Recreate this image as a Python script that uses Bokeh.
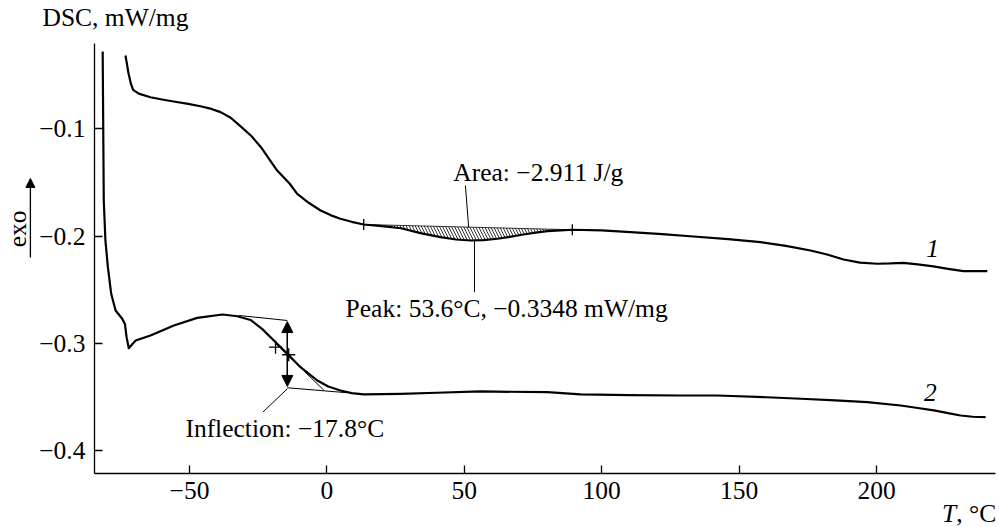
import numpy as np
from bokeh.plotting import figure
from bokeh.models import (Range1d, Label, Arrow, NormalHead, CustomJSTickFormatter,
                          FixedTicker)
from bokeh.embed import file_html
from bokeh.resources import INLINE

# ---- data ----
t1 = [-73.3, -72.2, -71.3, -70.5, -68.5, -64.2, -60.0, -55.8, -51.0, -46.0, -42.0, -38.7,
      -35.0, -31.4, -27.5, -24.0, -21.0, -18.1, -13.6, -10.8, -6.5, -2.3, 1.5, 4.9, 9.0,
      13.4, 20.0, 27.0, 34.0, 41.3, 47.0, 52.3, 57.0, 62.0, 67.0, 71.5, 76.0, 80.2, 85.0,
      89.3, 100.0, 110.5, 122.0, 133.4, 146.0, 157.8, 167.0, 176.0, 182.0, 188.0, 194.0,
      200.3, 205.0, 209.8, 215.0, 220.7, 226.0, 231.6, 240.3]
y1 = [-0.0315, -0.048, -0.058, -0.0635, -0.0670, -0.0704, -0.0725, -0.0744, -0.0764,
      -0.0788, -0.0813, -0.0843, -0.0895, -0.0975, -0.1065, -0.1170, -0.1280, -0.1387,
      -0.1508, -0.1604, -0.1690, -0.1760, -0.1805, -0.1837, -0.1865, -0.1890, -0.1905,
      -0.1925, -0.1970, -0.2008, -0.2030, -0.2039, -0.2036, -0.2023, -0.2003, -0.1983,
      -0.1965, -0.1952, -0.1944, -0.1939, -0.1945, -0.1962, -0.1980, -0.2002, -0.2027,
      -0.2055, -0.2090, -0.2132, -0.2170, -0.2216, -0.2245, -0.2256, -0.2253, -0.2247,
      -0.2262, -0.2281, -0.2303, -0.2325, -0.2325]

t2 = [-81.6, -81.2, -80.6, -79.7, -78.5, -76.9, -74.5, -73.5, -72.9, -72.1, -71.0, -69.6,
      -64.2, -55.7, -47.2, -38.0, -32.6, -27.8, -23.5, -19.3, -14.4, -9.6, -3.5, 0.5, 4.9,
      9.0, 13.4, 26.8, 40.0, 55.9, 80.2, 92.3, 110.0, 128.7, 142.0, 160.0, 172.5, 185.0,
      196.6, 208.8, 215.0, 220.9, 226.0, 230.6, 235.0, 239.7]
y2 = [-0.0278, -0.1666, -0.2039, -0.2288, -0.2536, -0.2692, -0.2769, -0.2816, -0.2940,
      -0.3043, -0.3010, -0.2971, -0.2925, -0.2831, -0.2760, -0.2729, -0.2745, -0.2780,
      -0.2865, -0.2971, -0.3095, -0.3220, -0.3344, -0.3400, -0.3437, -0.3462, -0.3474,
      -0.3468, -0.3458, -0.3446, -0.3453, -0.3474, -0.3480, -0.3484, -0.3484, -0.3500,
      -0.3514, -0.3530, -0.3546, -0.3577, -0.3600, -0.3623, -0.3648, -0.3670, -0.3682,
      -0.3686]

x_ticks = [-50, 0, 50, 100, 150, 200]
y_ticks = [-0.4, -0.3, -0.2, -0.1]

# axis extents (data units)
x_axis_bounds = (-84.6, 243.4)
y_axis_bounds = (-0.4215, -0.0203)

# integration limits on curve 1 (peak area)
area_limits = [13.4, 89.3]
area_limit_y = [-0.1890, -0.1939]

# inflection analysis on curve 2
tan_top_x = [-32.1, -14.4]
tan_top_y = [-0.2738, -0.2785]
tan_bot_x = [-14.4, 7.4]
tan_bot_y = [-0.3412, -0.3458]
tan_infl_x = [-18.7, -1.2]
tan_infl_y = [-0.2999, -0.3432]
cross_x = [-18.7, -13.9]
cross_y = [-0.3033, -0.3104]
arrow_x = -14.4
arrow_y = [-0.2785, -0.3409]

FONT = "Liberation Serif"
FS = "25.5px"

# frame covers the whole canvas; axes are placed at fixed data locations
p = figure(width=999, height=527, output_backend="svg", toolbar_location=None,
           x_range=Range1d(-118.78, 244.75), y_range=Range1d(-0.4714, 0.01976),
           min_border=0, min_border_left=0, min_border_right=0, min_border_top=0,
           min_border_bottom=0)
p.outline_line_color = None
p.grid.visible = False
p.background_fill_color = "white"
p.border_fill_color = "white"

p.xaxis.fixed_location = y_axis_bounds[0]
p.yaxis.fixed_location = x_axis_bounds[0]
p.xaxis.bounds = x_axis_bounds
p.yaxis.bounds = y_axis_bounds

for ax in (p.xaxis[0], p.yaxis[0]):
    ax.axis_line_color = "black"
    ax.axis_line_width = 1.3
    ax.major_tick_line_color = "black"
    ax.major_tick_line_width = 1.3
    ax.major_tick_in = 8
    ax.major_tick_out = 0
    ax.minor_tick_line_color = None
    ax.major_label_text_font = FONT
    ax.major_label_text_font_size = FS
    ax.major_label_text_color = "black"

p.xaxis.ticker = FixedTicker(ticks=x_ticks)
p.yaxis.ticker = FixedTicker(ticks=y_ticks)
p.xaxis.formatter = CustomJSTickFormatter(
    code='return (tick < 0 ? "\\u2212" : "") + Math.abs(tick).toFixed(0);')
p.yaxis.formatter = CustomJSTickFormatter(
    code='return (tick < 0 ? "\\u2212" : "") + Math.abs(tick).toFixed(1);')
p.xaxis.major_label_standoff = 8
p.yaxis.major_label_standoff = 9

# hatched peak area between straight baseline and curve 1
t1a = np.array(t1)
y1a = np.array(y1)
mask = (t1a >= area_limits[0]) & (t1a <= area_limits[1])
xa = t1a[mask]
base = np.interp(xa, area_limits, area_limit_y)
p.varea(x=xa, y1=base, y2=y1a[mask], fill_color=None, hatch_pattern="\\",
        hatch_color="black", hatch_scale=6, hatch_weight=0.8)
p.line(area_limits, area_limit_y, line_color="black", line_width=0.8)

# curves
p.line(t1, y1, line_color="black", line_width=2.2, line_join="round")
p.line(t2, y2, line_color="black", line_width=2.2, line_join="round")

# limit ticks on curve 1
p.scatter(area_limits, area_limit_y, marker="dash", angle=np.pi / 2, size=11,
          line_color="black", line_width=1.3)

# curve-2 inflection construction
p.line(tan_top_x, tan_top_y, line_color="black", line_width=1.1)
p.line(tan_bot_x, tan_bot_y, line_color="black", line_width=1.1)
p.line(tan_infl_x, tan_infl_y, line_color="black", line_width=1.0)
p.scatter(cross_x, cross_y, marker="cross", size=13, line_color="black", line_width=1.3)
p.add_layout(Arrow(x_start=arrow_x, y_start=arrow_y[1] + 0.008, x_end=arrow_x,
                   y_end=arrow_y[0] - 0.001, start=None,
                   end=NormalHead(size=11, fill_color="black", line_color="black"),
                   line_width=1.3, line_color="black"))
p.add_layout(Arrow(x_start=arrow_x, y_start=arrow_y[0] - 0.008, x_end=arrow_x,
                   y_end=arrow_y[1] + 0.001, start=None,
                   end=NormalHead(size=11, fill_color="black", line_color="black"),
                   line_width=1.3, line_color="black"))

# pointer lines
p.line([50.4, 51.6], [-0.1527, -0.1921], line_color="black", line_width=1.0)
p.line([53.7, 53.7], [-0.2039, -0.2521], line_color="black", line_width=1.0)
p.line([-14.4, -23.3], [-0.3421, -0.3639], line_color="black", line_width=1.0)


def lab(x, y, text, align="left", baseline="middle", style="normal", angle=0.0):
    p.add_layout(Label(x=x, y=y, text=text, text_font=FONT, text_font_size=FS,
                       text_color="black", text_align=align, text_baseline=baseline,
                       text_font_style=style, angle=angle))


lab(46.0, -0.1402, "Area: \u22122.911 J/g")
lab(6.8, -0.2672, "Peak: 53.6\u00b0C, \u22120.3348 mW/mg")
lab(-51.5, -0.3795, "Inflection: \u221217.8\u00b0C")
lab(220.4, -0.2117, "1", align="center", style="italic")
lab(219.6, -0.3456, "2", align="center", style="italic")
lab(-103.5, 0.0043, "DSC, mW/mg")
lab(223.8, -0.4586, "T", style="italic")
lab(229.0, -0.4586, ", \u00b0C")
lab(-112.5, -0.1930, "exo", align="center", angle=np.pi / 2)

# exo arrow
p.add_layout(Arrow(x_start=-107.9, y_start=-0.2198, x_end=-107.9, y_end=-0.1461,
                   end=NormalHead(size=9, fill_color="black", line_color="black"),
                   line_width=1.3, line_color="black"))

open("out.html", "w").write(file_html(p, INLINE))
